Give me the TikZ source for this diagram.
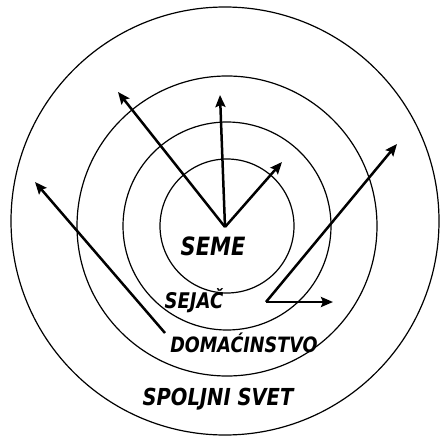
\documentclass[tikz,border=0pt]{standalone}
\usepackage{fontspec}
\newfontfamily\labfont{DejaVu Sans}
\usetikzlibrary{arrows.meta}
\begin{document}
\begin{tikzpicture}[x=1pt,y=-1pt,
  ring/.style={draw=black,line width=1.2pt},
  arr/.style={line width=2.5pt,-{Stealth[length=12pt,width=10pt,inset=2pt]}},
  lab/.style={font=\labfont\bfseries\itshape,anchor=base,inner sep=0pt}]
\useasboundingbox (0,0) rectangle (442,446);
\fill[white] (0,0) rectangle (442,446);
\coordinate (c) at (227,226);
\draw[ring] (225,221) circle (214);
\draw[ring] (c) circle (150);
\draw[ring] (c) circle (104);
\draw[ring] (c) circle (67);
\coordinate (v) at (225,227);
\coordinate (t1) at (118,92);
\coordinate (t2) at (220,95);
\coordinate (t3) at (282,162);
\coordinate (l0) at (165,333);
\coordinate (t4) at (35,182);
\coordinate (r0) at (266,302);
\coordinate (t5) at (397,144);
\coordinate (t6) at (333,302);
\draw[arr] (v) -- (t1);
\draw[arr] (v) -- (t2);
\draw[arr] (v) -- (t3);
\draw[arr] (l0) -- (t4);
\draw[arr] (r0) -- (t5);
\draw[arr] (r0) -- (t6);
\node[lab] (seme) at (213,255) {\fontsize{21}{21}\selectfont\scalebox{1}[1.2]{SEME}};
\node[lab] (sejac) at (194,308) {\fontsize{18}{18}\selectfont\scalebox{1}[1.2]{SEJAČ}};
\node[lab] (dom) at (244,352) {\fontsize{17.6}{18}\selectfont\scalebox{1}[1.2]{DOMAĆINSTVO}};
\node[lab] (svet) at (218,405) {\fontsize{19.5}{20}\selectfont\scalebox{1}[1.2]{SPOLJNI SVET}};
\end{tikzpicture}
\end{document}
